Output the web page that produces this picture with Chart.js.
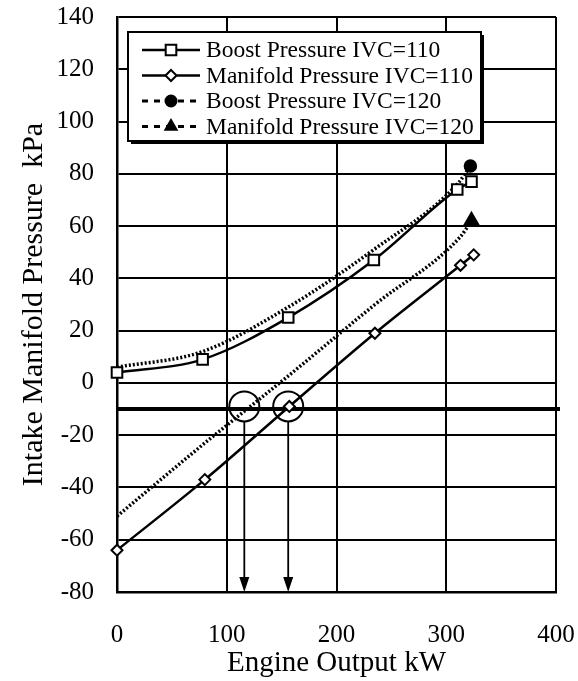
<!DOCTYPE html>
<html><head><meta charset="utf-8">
<script src="https://cdn.jsdelivr.net/npm/chart.js@4/dist/chart.umd.min.js"></script>
<style>html,body{margin:0;padding:0;background:#fff}</style>
</head><body>
<canvas id="c" width="578" height="681"></canvas>
<script>
// ---- data ----
const xTickValues = [0, 100, 200, 300, 400];
const yTickValues = [-80, -60, -40, -20, 0, 20, 40, 60, 80, 100, 120, 140];
const boost110X = [0, 78, 156, 234, 310, 323];
const boost110Y = [4, 9, 25, 47, 74, 77];
const manifold110X = [0, 80, 157, 235, 313, 325];
const manifold110Y = [-64, -37, -9, 19, 45, 49];
const boost120X = [0, 78, 156, 234, 310, 322];
const boost120Y = [6, 12, 29, 51, 76, 83];
const manifold120X = [0, 80, 157, 235, 313, 323];
const manifold120Y = [-51, -23, 3, 30, 56, 62];
const seriesLabels = ['Boost Pressure IVC=110', 'Manifold Pressure IVC=110', 'Boost Pressure IVC=120', 'Manifold Pressure IVC=120'];
const thresholdY = -10;
const circleX = [116, 156];
const circleY = [-9, -9];
const xTitle = 'Engine Output kW';
const yTitle = 'Intake Manifold Pressure  kPa';

const pts = (xs, ys) => xs.map((x, i) => ({x, y: ys[i]}));
const onlyLast = (n, r) => Array.from({length: n}, (_, i) => i === n - 1 ? r : 0);

const FONT = '"Liberation Serif", "DejaVu Serif", serif';

const decor = {
  id: 'decor',
  beforeDatasetsDraw(chart) {
    const {ctx, chartArea: a, scales: {x, y}} = chart;
    const py = y.getPixelForValue(thresholdY);
    ctx.save();
    ctx.strokeStyle = '#000';
    ctx.lineWidth = 4;
    ctx.beginPath();
    ctx.moveTo(a.left, py);
    ctx.lineTo(a.right + 4, py);
    ctx.stroke();
    ctx.restore();
  },
  afterDatasetsDraw(chart) {
    const {ctx, chartArea: a, scales: {x, y}} = chart;
    ctx.save();
    ctx.strokeStyle = '#000';
    ctx.fillStyle = '#000';
    ctx.lineWidth = 1.8;
    circleX.forEach((cx, i) => {
      const px = x.getPixelForValue(cx);
      const top = y.getPixelForValue(circleY[i]) + 15;
      const bot = a.bottom;
      ctx.beginPath();
      ctx.moveTo(px, top);
      ctx.lineTo(px, bot - 12);
      ctx.stroke();
      ctx.beginPath();
      ctx.moveTo(px - 5, bot - 15);
      ctx.lineTo(px + 5, bot - 15);
      ctx.lineTo(px, bot);
      ctx.closePath();
      ctx.fill();
    });
    ctx.restore();
  },
  afterDraw(chart) {
    const {ctx, chartArea: a} = chart;
    const left = a.left + 11, top = a.top + 15, w = 353, h = 109;
    ctx.save();
    ctx.fillStyle = '#000';
    ctx.fillRect(left + 3, top + 3, w, h);
    ctx.fillStyle = '#fff';
    ctx.fillRect(left, top, w, h);
    ctx.strokeStyle = '#000';
    ctx.lineWidth = 2;
    ctx.strokeRect(left, top, w, h);
    ctx.font = '23.5px ' + FONT;
    ctx.textBaseline = 'middle';
    ctx.textAlign = 'left';
    chart.data.datasets.slice(0, 4).forEach((ds, i) => {
      const ry = top + 18 + i * 25.5;
      ctx.strokeStyle = '#000';
      ctx.lineWidth = ds.borderDash && ds.borderDash.length ? 3 : 2.5;
      ctx.setLineDash(ds.borderDash && ds.borderDash.length ? [6, 6] : []);
      ctx.beginPath();
      ctx.moveTo(left + 14, ry);
      ctx.lineTo(left + 72, ry);
      ctx.stroke();
      ctx.setLineDash([]);
      ctx.fillStyle = ds.pointBackgroundColor;
      ctx.strokeStyle = '#000';
      ctx.lineWidth = 2;
      Chart.helpers.drawPoint(ctx, {pointStyle: ds.pointStyle, radius: ds.legendRadius, borderWidth: 2, rotation: 0}, left + 43, ry);
      ctx.fillStyle = '#000';
      ctx.fillText(ds.label, left + 78, ry + 1);
    });
    ctx.restore();
  }
};

new Chart(document.getElementById('c'), {
  type: 'line',
  data: {
    datasets: [
      {label: seriesLabels[0], data: pts(boost110X, boost110Y), borderColor: '#000', borderWidth: 2.5,
       pointStyle: 'rect', pointRadius: 7.5, pointBackgroundColor: '#fff', pointBorderColor: '#000', pointBorderWidth: 2,
       legendRadius: 7.5, cubicInterpolationMode: 'monotone', clip: false},
      {label: seriesLabels[1], data: pts(manifold110X, manifold110Y), borderColor: '#000', borderWidth: 2.5,
       pointStyle: 'rectRot', pointRadius: 5.5, pointBackgroundColor: '#fff', pointBorderColor: '#000', pointBorderWidth: 2,
       legendRadius: 5.5, cubicInterpolationMode: 'monotone', clip: false},
      {label: seriesLabels[2], data: pts(boost120X, boost120Y), borderColor: '#000', borderWidth: 3.5, borderDash: [2, 2],
       pointStyle: 'circle', pointRadius: onlyLast(boost120X.length, 5), pointBackgroundColor: '#000', pointBorderColor: '#000',
       legendRadius: 5.5, cubicInterpolationMode: 'monotone', clip: false},
      {label: seriesLabels[3], data: pts(manifold120X, manifold120Y), borderColor: '#000', borderWidth: 3.5, borderDash: [2, 2],
       pointStyle: 'triangle', pointRadius: onlyLast(manifold120X.length, 6.5), pointBackgroundColor: '#000', pointBorderColor: '#000',
       legendRadius: 6.5, cubicInterpolationMode: 'monotone', clip: false},
      {label: 'markers', data: pts(circleX, circleY), showLine: false, pointStyle: 'circle', pointRadius: 15,
       pointBackgroundColor: 'rgba(0,0,0,0)', pointBorderColor: '#000', pointBorderWidth: 2, clip: false}
    ]
  },
  options: {
    responsive: false,
    animation: false,
    devicePixelRatio: 1,
    layout: {padding: {top: 16, right: 22, bottom: 0, left: 0}},
    plugins: {legend: {display: false}, tooltip: {enabled: false}},
    scales: {
      x: {
        type: 'linear', min: 0, max: 400,
        afterBuildTicks: s => { s.ticks = xTickValues.map(v => ({value: v})); },
        afterFit: s => { s.height = 89; s.paddingLeft = 0; s.paddingRight = 0; },
        grid: {color: '#000', lineWidth: 2, drawTicks: false},
        border: {color: '#000', width: 2.5},
        ticks: {color: '#000', font: {family: FONT, size: 25}, padding: 28, maxRotation: 0},
        title: {display: true, text: xTitle, color: '#000', font: {family: FONT, size: 29}, padding: {top: 0, bottom: 0}}
      },
      y: {
        type: 'linear', min: -80, max: 140,
        afterBuildTicks: s => { s.ticks = yTickValues.map(v => ({value: v})); },
        afterFit: s => { s.width = 117; s.paddingTop = 0; s.paddingBottom = 0; },
        grid: {color: '#000', lineWidth: 2, drawTicks: false},
        border: {color: '#000', width: 2.5},
        ticks: {color: '#000', font: {family: FONT, size: 25}, padding: 23},
        title: {display: true, text: yTitle, color: '#000', font: {family: FONT, size: 30}, padding: {top: 16, bottom: 0}}
      }
    }
  },
  plugins: [decor]
});
</script>
</body></html>
